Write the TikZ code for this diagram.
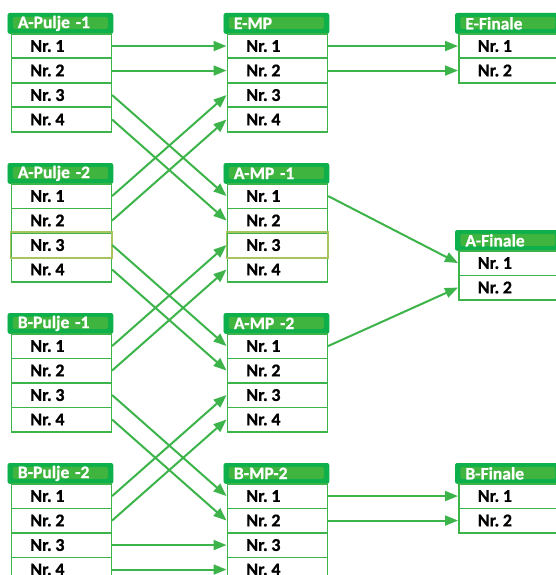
\documentclass[tikz,border=0pt]{standalone}
\usepackage{fontspec}
\setmainfont{Carlito}[BoldFeatures={FakeBold=0.8}]
\usetikzlibrary{arrows.meta}
\definecolor{lgreen}{HTML}{3CB44A}
\definecolor{hdark}{HTML}{0DB04B}
\definecolor{hlight}{HTML}{3FB43E}
\definecolor{olivebd}{HTML}{A8C45E}
\tikzset{
  hdr/.style={rectangle, rounded corners=2pt, fill=hdark, draw=hdark, line width=0.8pt,
    minimum width=105pt, minimum height=20pt, inner xsep=10pt, inner ysep=0pt,
    text width=85pt, align=left, text=white,
    font=\fontsize{17.5}{19}\selectfont\bfseries,
    path picture={\fill[hlight] ([xshift=5pt,yshift=-3.5pt]path picture bounding box.north west) rectangle ([xshift=-5pt,yshift=4.5pt]path picture bounding box.south east);}},
  rowbox/.style={rectangle, fill=white, draw=lgreen, line width=1.6pt,
    minimum width=100pt, minimum height=24.5pt, inner xsep=19pt, inner ysep=0pt,
    text width=62pt, align=left, text=black,
    font=\fontsize{18}{20}\selectfont\bfseries},
  conn/.style={draw=lgreen, line width=2pt, -{Triangle[length=13pt,width=10pt]}},
  lnk/.style={draw=lgreen, line width=2pt}
}
\newcommand\mkgroup[5]{%
  \node[hdr, anchor=north west] (#3-h) at (#1-3, #2) {#4};
  \foreach \i in {1,...,#5} {
    \node[rowbox, anchor=north west] (#3-\i) at (#1, {#2+20+(\i-1)*24.5}) {\raisebox{-0.8pt}{Nr.\hspace{0.2em}\i}};
  }
}
\begin{document}
\begin{tikzpicture}[x=1pt,y=-1pt]
\useasboundingbox (0,0) rectangle (556,575);
\fill[white] (0,0) rectangle (556,575);
% left column
\mkgroup{10.5}{13}{ap1}{A-Pulje -1}{4}
\mkgroup{10.5}{163}{ap2}{A-Pulje -2}{4}
\mkgroup{10.5}{313}{bp1}{B-Pulje -1}{4}
\mkgroup{10.5}{463}{bp2}{B-Pulje -2}{4}
% middle column
\mkgroup{226.5}{13}{emp}{E-MP}{4}
\mkgroup{226.5}{163}{amp1}{A-MP -1}{4}
\mkgroup{226.5}{313}{amp2}{A-MP -2}{4}
\mkgroup{226.5}{463}{bmp2}{B-MP-2}{4}
% right column
\mkgroup{458}{13}{efin}{E-Finale}{2}
\mkgroup{458}{230}{afin}{A-Finale}{2}
\mkgroup{458}{463}{bfin}{B-Finale}{2}
% olive-bordered rows
\draw[olivebd, line width=1.6pt] (ap2-3.north west) rectangle (ap2-3.south east);
\draw[olivebd, line width=1.6pt] (amp1-3.north west) rectangle (amp1-3.south east);
% connectors pulje -> MP
\draw[conn] (ap1-1.east) -- (emp-1.west);
\draw[conn] (ap1-2.east) -- (emp-2.west);
\draw[conn] (ap1-3.east) -- (amp1-1.west);
\draw[conn] (ap1-4.east) -- (amp1-2.west);
\draw[conn] (ap2-1.east) -- (emp-3.west);
\draw[conn] (ap2-2.east) -- (emp-4.west);
\draw[conn] (ap2-3.east) -- (amp2-1.west);
\draw[conn] (ap2-4.east) -- (amp2-2.west);
\draw[conn] (bp1-1.east) -- (amp1-3.west);
\draw[conn] (bp1-2.east) -- (amp1-4.west);
\draw[conn] (bp1-3.east) -- (bmp2-1.west);
\draw[conn] (bp1-4.east) -- (bmp2-2.west);
\draw[conn] (bp2-1.east) -- (amp2-3.west);
\draw[conn] (bp2-2.east) -- (amp2-4.west);
\draw[conn] (bp2-3.east) -- (bmp2-3.west);
\draw[conn] (bp2-4.east) -- (bmp2-4.west);
% MP -> finale
\draw[conn] (emp-1.east) -- (efin-1.west);
\draw[conn] (emp-2.east) -- (efin-2.west);
\draw[conn] (amp1-1.east) -- (afin-1.west);
\draw[conn] (amp2-1.east) -- (afin-2.west);
\draw[conn] (bmp2-1.east) -- (bfin-1.west);
\draw[conn] (bmp2-2.east) -- (bfin-2.west);
\end{tikzpicture}
\end{document}
